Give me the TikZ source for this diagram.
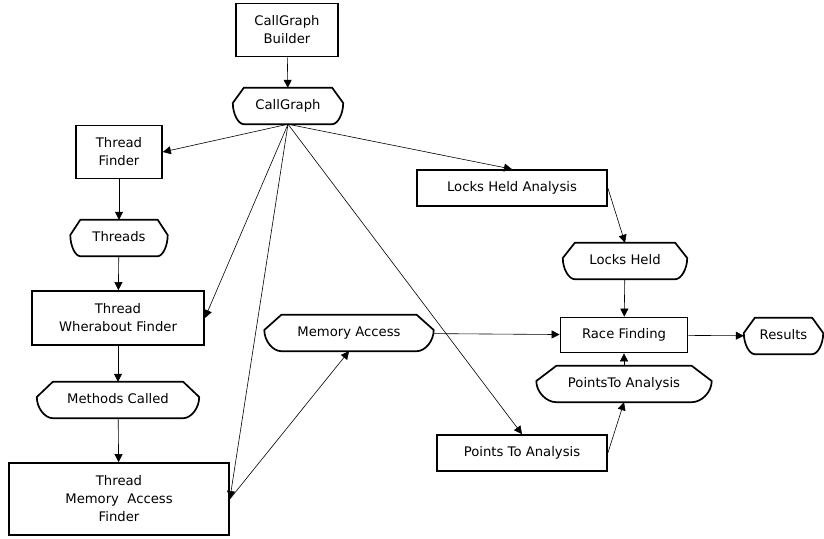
\documentclass[tikz,border=0pt]{standalone}
\usepackage{fontspec}
\setmainfont{DejaVu Sans}
\usetikzlibrary{
  positioning,
  arrows.meta,
  calc
}

\begin{document}
\begin{tikzpicture}[
  x=1pt, y=-1pt,
  every node/.style={font=\fontsize{13.2}{18}\selectfont, align=center},
  proc/.style={
    rectangle, draw=black, line width=1.7pt, inner sep=0pt
  },
  oneline/.style={text height=0.73em, text depth=0pt},
  data/.style={
    rectangle, inner sep=0pt, minimum height=36pt, oneline
  },
  outline/.style={line width=1.7pt, line join=round},
  arrow/.style={-{Triangle[length=8pt, width=8pt]}, line width=0.6pt}
]
 \useasboundingbox (0,0) rectangle (824,538);

 % Left column
 \node[proc, minimum width=102pt, minimum height=53pt] (cgb) at (287,30)
  {CallGraph\\Builder};
 \node[data, minimum width=110pt] (cg) at (288,106) {CallGraph};
 \node[proc, minimum width=86pt, minimum height=53pt] (tf) at (119,152)
  {Thread\\Finder};
 \node[data, minimum width=97pt] (thr) at (119,238) {Threads};
 \node[proc, minimum width=172pt, minimum height=54pt] (twf) at (118,318)
  {Thread\\Wherabout Finder};
 \node[data, minimum width=162pt] (mc) at (118,400) {Methods Called};
 \node[proc, minimum width=220pt, minimum height=72pt] (tmaf) at (119,499)
  {Thread\\Memory~~Access\\Finder};

 % Middle and right
 \node[data, minimum width=169pt] (ma) at (349,333) {Memory Access};
 \node[proc, oneline, minimum width=190pt, minimum height=36pt] (lha)
  at (512,188) {Locks Held Analysis};
 \node[data, minimum width=124pt] (lh) at (625,261) {Locks Held};
 \node[proc, oneline, minimum width=127pt, minimum height=35pt] (rf)
  at (624,335) {Race Finding};
 \node[data, minimum width=79pt] (res) at (783.5,336) {Results};
 \node[data, minimum width=175pt] (pta) at (624,384) {PointsTo Analysis};
 \node[proc, oneline, minimum width=170pt, minimum height=36pt] (pts)
  at (522,453) {Points To Analysis};

 % Outlines of the data nodes
 \foreach \n/\c in {cg/11, thr/10, mc/16, ma/17, lh/12, res/11, pta/20} {
  \draw[outline]
   ($(\n.north west)+(\c pt,0)$) -- ($(\n.north east)+(-\c pt,0)$)
   -- ($(\n.east)+(0,3pt)$)
   .. controls ($(\n.east)+(0,-8pt)$) and ($(\n.south east)+(-0.5*\c pt,0)$)
   .. ($(\n.south east)+(-\c pt,0)$)
   -- ($(\n.south west)+(\c pt,0)$)
   .. controls ($(\n.south west)+(0.5*\c pt,0)$) and ($(\n.west)+(0,-8pt)$)
   .. ($(\n.west)+(0,3pt)$) -- cycle;
 }

 % Connectors
 \draw[arrow] (cgb) -- (cg);
 \draw[arrow] (cg.south) -- (tf.east);
 \draw[arrow] (cg.south) -- (lha.north);
 \draw[arrow] (cg.south) -- (twf.east);
 \draw[arrow] (cg.south) -- (tmaf.east);
 \draw[arrow] (cg.south) -- (pts.north);
 \draw[arrow] (tf) -- (thr);
 \draw[arrow] (thr) -- (twf);
 \draw[arrow] (twf) -- (mc);
 \draw[arrow] (mc) -- (tmaf);
 \draw[arrow] (tmaf.east) -- (ma.south);
 \draw[arrow] (ma) -- (rf);
 \draw[arrow] (lha.east) -- (lh.north);
 \draw[arrow] (lh) -- (rf);
 \draw[arrow] (pta) -- (rf);
 \draw[arrow] (pts.east) -- (pta.south);
 \draw[arrow] (rf) -- (res);
\end{tikzpicture}
\end{document}
